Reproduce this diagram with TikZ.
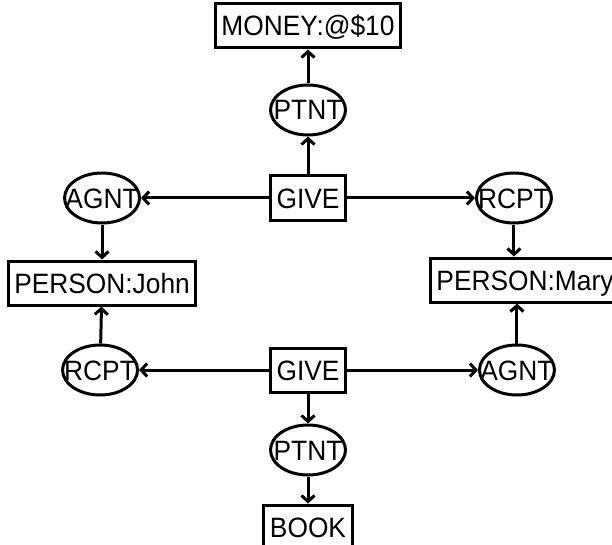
\documentclass[tikz,border=0pt]{standalone}
\usepackage{fontspec}
\setmainfont[FakeStretch=0.94]{Liberation Sans}
\usepackage{tikz}
\usetikzlibrary{shapes.geometric, arrows.meta, positioning}
\newcommand{\rel}[1]{\makebox[0pt]{#1}}
\tikzset{
    concept/.style={
        rectangle,
        draw=black,
        line width=3pt,
        minimum height=44pt,
        inner xsep=6pt,
        text height=20pt,
        text depth=0pt
    },
    relation/.style={
        ellipse,
        draw=black,
        line width=3pt,
        minimum width=75pt,
        minimum height=50pt,
        inner sep=0pt,
        text height=20pt,
        text depth=0pt
    },
    link/.style={
        line width=3pt,
        -{Straight Barb[length=6pt, width=13pt]},
        color=black
    }
}
\begin{document}
\begin{tikzpicture}[font=\fontsize{28}{32}\selectfont]
    \useasboundingbox (0,0) rectangle (612pt,-545pt);

    % --- first GIVE (John gives money) ---
    \node (give1) [concept] at (308pt,-198pt) {GIVE};
    \node (ptnt1) [relation, above=38pt of give1] {\rel{PTNT}};
    \node (money) [concept, above=34pt of ptnt1] {MONEY:@\$10};
    \node (agnt1) [relation, left=128pt of give1] {\rel{AGNT}};
    \node (rcpt1) [relation, right=128pt of give1] {\rel{RCPT}};

    % --- persons ---
    \node (john) [concept, below=35pt of agnt1] {PERSON:John};
    \node (mary) [concept, below=32pt of rcpt1, xshift=11pt] {PERSON:Mary};

    % --- second GIVE (Mary gives a book) ---
    \node (give2) [concept, below=125pt of give1] {GIVE};
    \node (rcpt2) [relation, left=130pt of give2] {\rel{RCPT}};
    \node (agnt2) [relation, right=131pt of give2] {\rel{AGNT}};
    \node (ptnt2) [relation, below=30pt of give2] {\rel{PTNT}};
    \node (book) [concept, below=27pt of ptnt2] {BOOK};

    \draw [link] (give1) -- (ptnt1);
    \draw [link] (ptnt1) -- (money);
    \draw [link] (give1) -- (agnt1);
    \draw [link] (give1) -- (rcpt1);
    \draw [link] (agnt1) -- (john);
    \draw [link] (rcpt1) -- (rcpt1 |- mary.north);

    \draw [link] (rcpt2) -- (john);
    \draw [link] (agnt2) -- (agnt2 |- mary.south);
    \draw [link] (give2) -- (rcpt2);
    \draw [link] (give2) -- (agnt2);
    \draw [link] (give2) -- (ptnt2);
    \draw [link] (ptnt2) -- (book);
\end{tikzpicture}
\end{document}
